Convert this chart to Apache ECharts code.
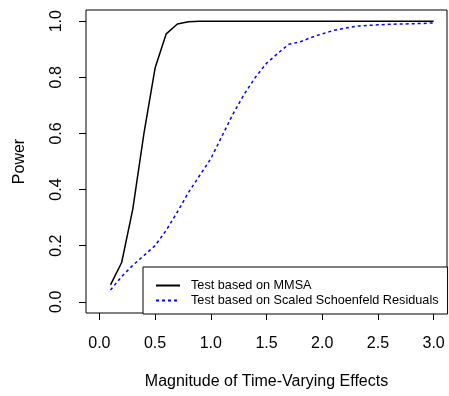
<!DOCTYPE html>
<html>
<head>
<meta charset="utf-8">
<script src="https://cdn.jsdelivr.net/npm/echarts@6/dist/echarts.min.js"></script>
<style>html,body{margin:0;padding:0;background:#fff;}#c{width:449px;height:396px;}</style>
</head>
<body>
<div id="c"></div>
<script>
var xValues = [0.1,0.2,0.3,0.4,0.5,0.6,0.7,0.8,0.9,1.0,1.1,1.2,1.3,1.4,1.5,1.6,1.7,1.8,1.9,2.0,2.1,2.2,2.3,2.4,2.5,2.6,2.7,2.8,2.9,3.0];
var mmsa = [0.06,0.14,0.33,0.60,0.833,0.955,0.99,0.998,1.0,1.0,1.0,1.0,1.0,1.0,1.0,1.0,1.0,1.0,1.0,1.0,1.0,1.0,1.0,1.0,1.0,1.0,1.0,1.0,1.0,1.0];
var schoenfeld = [0.042,0.09,0.13,0.165,0.2,0.255,0.32,0.39,0.45,0.51,0.59,0.67,0.74,0.80,0.85,0.885,0.918,0.926,0.942,0.955,0.967,0.975,0.982,0.985,0.987,0.989,0.990,0.991,0.992,0.994];
var xTicks = [0,0.5,1.0,1.5,2.0,2.5,3.0];
var yTicks = [0,0.2,0.4,0.6,0.8,1.0];
var seriesNames = ['Test based on MMSA','Test based on Scaled Schoenfeld Residuals'];
var xTitle = 'Magnitude of Time-Varying Effects';
var yTitle = 'Power';

function pairs(ys){ return xValues.map(function(x,i){ return [x, ys[i]]; }); }
var font = 'Liberation Sans, Arial, sans-serif';
var chart = echarts.init(document.getElementById('c'));
chart.setOption({
  animation: false,
  backgroundColor: '#fff',
  grid: { left: 86, top: 10, right: 2, bottom: 83, show: true, borderColor: '#000', borderWidth: 1, containLabel: false },
  xAxis: {
    type: 'value', min: -0.12, max: 3.12,
    name: xTitle, nameLocation: 'middle', nameGap: 61,
    nameTextStyle: { fontSize: 16, color: '#000', fontFamily: font },
    axisLine: { show: false, onZero: false },
    splitLine: { show: false },
    axisTick: { show: true, length: 7, inside: false, customValues: xTicks, lineStyle: { color: '#000' } },
    axisLabel: { customValues: xTicks, margin: 23, fontSize: 16, color: '#000', fontFamily: font,
      formatter: function(v){ return v.toFixed(1); } }
  },
  yAxis: {
    type: 'value', min: -0.04, max: 1.04,
    name: yTitle, nameLocation: 'middle', nameGap: 58, nameRotate: 90,
    nameTextStyle: { fontSize: 16, color: '#000', fontFamily: font },
    axisLine: { show: false, onZero: false },
    splitLine: { show: false },
    axisTick: { show: true, length: 7, inside: false, customValues: yTicks, lineStyle: { color: '#000' } },
    axisLabel: { customValues: yTicks, margin: 21, rotate: 90, fontSize: 16, color: '#000', fontFamily: font,
      formatter: function(v){ return v.toFixed(1); } }
  },
  legend: {
    orient: 'vertical', left: 143, top: 267,
    padding: [12, 9, 7, 12], itemGap: 2, itemWidth: 24, itemHeight: 13,
    backgroundColor: '#fff', borderColor: '#000', borderWidth: 1, borderRadius: 0,
    itemStyle: { opacity: 0, borderWidth: 0 },
    textStyle: { fontSize: 12.7, color: '#000', fontFamily: font, padding: [0,0,0,6] },
    data: seriesNames
  },
  series: [
    { name: seriesNames[0], type: 'line', data: pairs(mmsa), symbol: 'none', smooth: false,
      lineStyle: { color: '#000', width: 1.5, type: 'solid' }, itemStyle: { color: '#000' } },
    { name: seriesNames[1], type: 'line', data: pairs(schoenfeld), symbol: 'none', smooth: false,
      lineStyle: { color: '#0000ff', width: 1.5, type: [3, 3] }, itemStyle: { color: '#0000ff' } }
  ]
});
</script>
</body>
</html>
